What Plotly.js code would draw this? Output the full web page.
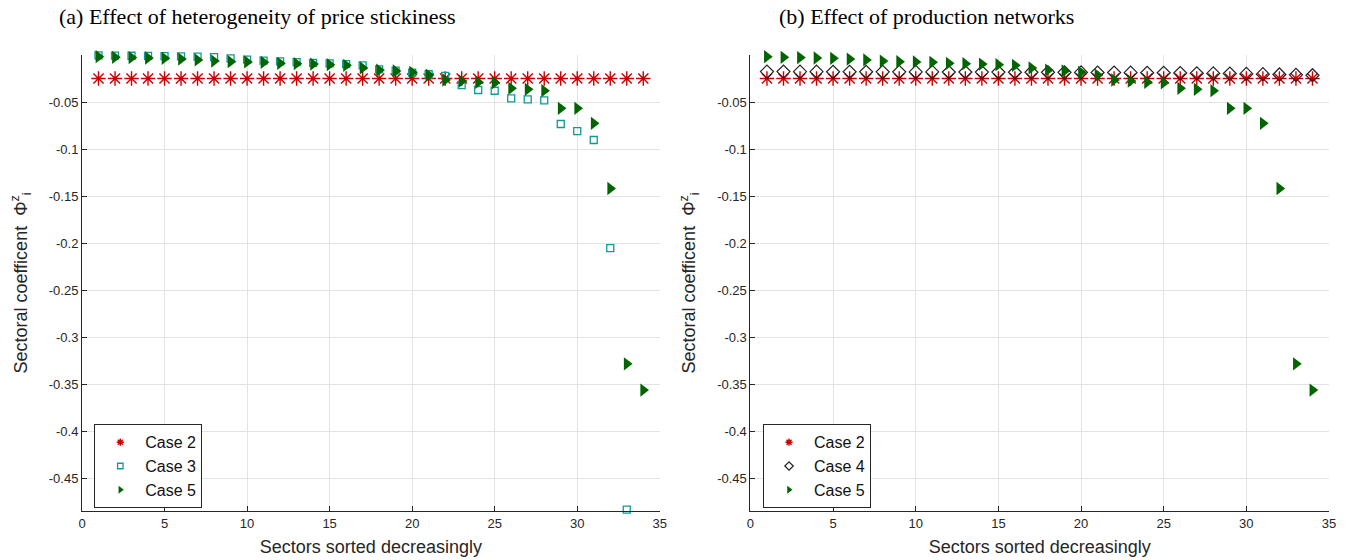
<!DOCTYPE html>
<html>
<head>
<meta charset="utf-8">
<script src="https://cdn.plot.ly/plotly-3.0.1.min.js"></script>
<style>html,body{margin:0;padding:0;background:#fff;}#chart{width:1356px;height:560px;}</style>
</head>
<body>
<div id="chart"></div>
<script>
// ---- data ----
const sectors = [1,2,3,4,5,6,7,8,9,10,11,12,13,14,15,16,17,18,19,20,21,22,23,24,25,26,27,28,29,30,31,32,33,34];
const sectors3 = [1,2,3,4,5,6,7,8,9,10,11,12,13,14,15,16,17,18,19,20,21,22,23,24,25,26,27,28,29,30,31,32,33];
const case2 = [-0.025,-0.025,-0.025,-0.025,-0.025,-0.025,-0.025,-0.025,-0.025,-0.025,-0.025,-0.025,-0.025,-0.025,-0.025,-0.025,-0.025,-0.025,-0.025,-0.025,-0.025,-0.025,-0.025,-0.025,-0.025,-0.025,-0.025,-0.025,-0.025,-0.025,-0.025,-0.025,-0.025,-0.025];
const case3 = [-0.0005,-0.0007,-0.0008,-0.0010,-0.0012,-0.0015,-0.0018,-0.0022,-0.0035,-0.0050,-0.0060,-0.0068,-0.0076,-0.0083,-0.0090,-0.0098,-0.0110,-0.0152,-0.0167,-0.0188,-0.0205,-0.0223,-0.0320,-0.0372,-0.0380,-0.0461,-0.0471,-0.0482,-0.0734,-0.0809,-0.0904,-0.2055,-0.4835];
const case4 = [-0.0176,-0.0176,-0.0177,-0.0177,-0.0178,-0.0178,-0.0178,-0.0179,-0.0179,-0.0180,-0.0180,-0.0181,-0.0181,-0.0182,-0.0182,-0.0183,-0.0183,-0.0184,-0.0184,-0.0185,-0.0186,-0.0187,-0.0188,-0.0189,-0.0190,-0.0192,-0.0194,-0.0196,-0.0198,-0.0201,-0.0204,-0.0207,-0.0211,-0.0215];
const case5 = [-0.0018,-0.0025,-0.0027,-0.0032,-0.0035,-0.0043,-0.0053,-0.0064,-0.0071,-0.0074,-0.0078,-0.0088,-0.0092,-0.0096,-0.0103,-0.0110,-0.0138,-0.0160,-0.0170,-0.0184,-0.0213,-0.0266,-0.0277,-0.0290,-0.0295,-0.0354,-0.0365,-0.0380,-0.0567,-0.0567,-0.0727,-0.1420,-0.3285,-0.3564];
const xTickVals = [0,5,10,15,20,25,30,35];
const xTickText = ['0','5','10','15','20','25','30','35'];
const yTickVals = [-0.45,-0.4,-0.35,-0.3,-0.25,-0.2,-0.15,-0.1,-0.05];
const yTickText = ['-0.45','-0.4','-0.35','-0.3','-0.25','-0.2','-0.15','-0.1','-0.05'];
const names = {c2:'Case 2', c3:'Case 3', c4:'Case 4', c5:'Case 5'};
const titleA = '(a) Effect of heterogeneity of price stickiness';
const titleB = '(b) Effect of production networks';
const xLabel = 'Sectors sorted decreasingly';
const yLabel = 'Sectoral coefficent\u00a0\u00a0\u03a6<sup>z</sup><sub>i</sub>';

// ---- styles ----
const RED = '#c80000', TEAL = '#0f9a9a', GREEN = '#006400', DARK = '#262626';
const st2 = {symbol:'asterisk-open', size:12, color:RED, line:{color:RED, width:1.4}};
const st3 = {symbol:'square-open', size:7, color:TEAL, line:{color:TEAL, width:1.3}};
const st4 = {symbol:'diamond-open', size:10, color:'#222', line:{color:'#222', width:1.2}};
const st5 = {symbol:'triangle-right', size:11.5, color:GREEN, line:{width:0}};
function small(m, s){ return Object.assign({}, m, {size:s, line:Object.assign({}, m.line)}); }

function pts(x, y, m, xa, ya){
  return {type:'scatter', mode:'markers', x:x, y:y, xaxis:xa, yaxis:ya, marker:m, showlegend:false, cliponaxis:false, hoverinfo:'x+y'};
}
function leg(name, m, legendId, xa, ya){
  return {type:'scatter', mode:'markers', x:[null], y:[null], xaxis:xa, yaxis:ya, name:name, marker:m, showlegend:true, legend:legendId};
}

const traces = [
  pts(sectors, case2, st2, 'x', 'y'),
  pts(sectors3, case3, st3, 'x', 'y'),
  pts(sectors, case5, st5, 'x', 'y'),
  pts(sectors, case2, st2, 'x2', 'y2'),
  pts(sectors, case4, st4, 'x2', 'y2'),
  pts(sectors, case5, st5, 'x2', 'y2'),
  leg(names.c2, small(st2, 6), 'legend', 'x', 'y'),
  leg(names.c3, small(st3, 5.5), 'legend', 'x', 'y'),
  leg(names.c5, small(st5, 7), 'legend', 'x', 'y'),
  leg(names.c2, small(st2, 6), 'legend2', 'x2', 'y2'),
  leg(names.c4, small(st4, 6.5), 'legend2', 'x2', 'y2'),
  leg(names.c5, small(st5, 7), 'legend2', 'x2', 'y2')
];

const tickFont = {family:'Liberation Sans, Arial, sans-serif', size:13, color:DARK};
const labFont = {family:'Liberation Sans, Arial, sans-serif', size:18, color:DARK};
function xax(dom){
  return {domain:dom, range:[0,35], tickvals:xTickVals, ticktext:xTickText, showline:true, linecolor:DARK, linewidth:1,
    ticks:'inside', ticklen:5, tickcolor:DARK, showgrid:true, gridcolor:'#e3e3e3', gridwidth:1, zeroline:false,
    tickfont:tickFont, automargin:false, fixedrange:true,
    title:{text:xLabel, font:labFont, standoff:10}};
}
function yax(anchor){
  return {domain:[0,1], anchor:anchor, range:[-0.485,0], tickvals:yTickVals, ticktext:yTickText, showline:true, linecolor:DARK, linewidth:1,
    ticks:'inside', ticklen:5, tickcolor:DARK, showgrid:true, gridcolor:'#e3e3e3', gridwidth:1, zeroline:false,
    tickfont:tickFont, automargin:false, fixedrange:true,
    title:{text:yLabel, font:labFont, standoff:16}};
}
const legBase = {bgcolor:'#ffffff', bordercolor:DARK, borderwidth:1, font:{family:'Liberation Sans, Arial, sans-serif', size:16, color:'#111'},
  xanchor:'left', yanchor:'top', tracegroupgap:0, itemwidth:40, xref:'paper', yref:'paper'};

const layout = {
  width:1356, height:560,
  margin:{l:82, r:26.5, t:55, b:49, pad:0},
  paper_bgcolor:'#ffffff', plot_bgcolor:'#ffffff',
  showlegend:true,
  xaxis: Object.assign(xax([0, 0.46333]), {anchor:'y'}),
  yaxis: yax('x'),
  xaxis2: Object.assign(xax([0.53603, 1]), {anchor:'y2'}),
  yaxis2: yax('x2'),
  legend: Object.assign({}, legBase, {x:0.00986, y:0.19013}),
  legend2: Object.assign({}, legBase, {x:0.54613, y:0.19013}),
  annotations:[
    {text:titleA, xref:'paper', yref:'paper', x:0.1410, y:1.0855, xanchor:'center', yanchor:'middle', showarrow:false,
     font:{family:'Liberation Serif, Times New Roman, serif', size:22, color:'#000'}},
    {text:titleB, xref:'paper', yref:'paper', x:0.6770, y:1.0855, xanchor:'center', yanchor:'middle', showarrow:false,
     font:{family:'Liberation Serif, Times New Roman, serif', size:22, color:'#000'}}
  ]
};

Plotly.newPlot('chart', traces, layout, {staticPlot:true, displayModeBar:false});
</script>
</body>
</html>
